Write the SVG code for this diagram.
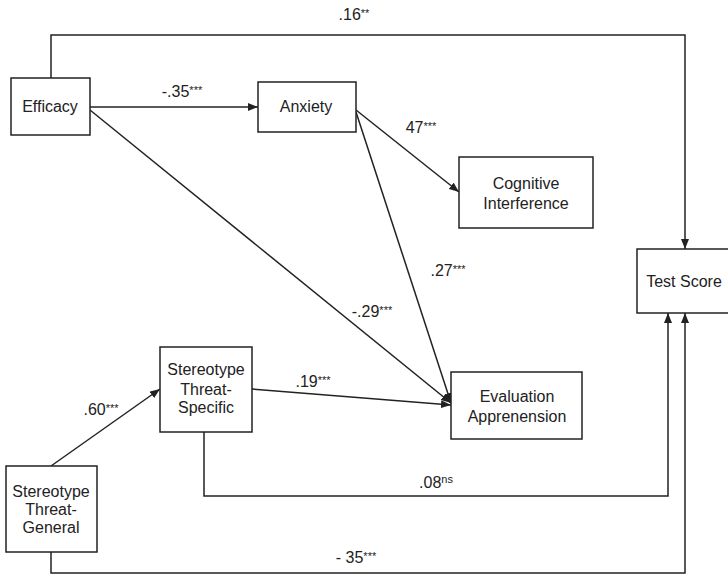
<svg xmlns="http://www.w3.org/2000/svg" width="728" height="576" viewBox="0 0 728 576">
<style>
.box{fill:#fff;stroke:#222;stroke-width:1.5}
.t{font-family:"Liberation Sans",Arial,sans-serif;font-size:16px;fill:#222;text-anchor:middle}
.lbl{font-family:"Liberation Sans",Arial,sans-serif;font-size:16px;fill:#222;text-anchor:middle}
.s{font-size:11px}
.c{fill:none;stroke:#222;stroke-width:1.5}
</style>
<defs>
<marker id="ah" markerUnits="userSpaceOnUse" markerWidth="10" markerHeight="8" refX="10" refY="4" orient="auto">
<path d="M0,0 L10,4 L0,8 z" fill="#222"/>
</marker>
</defs>
<rect width="728" height="576" fill="#fff"/>
<g id="connectors">
<path class="c" d="M51,78 V35 H685 V249" marker-end="url(#ah)"/>
<path class="c" d="M90,107 H258" marker-end="url(#ah)"/>
<path class="c" d="M356,110 L459,192" marker-end="url(#ah)"/>
<path class="c" d="M356,112 L451,403" marker-end="url(#ah)"/>
<path class="c" d="M90,110 L451,403" marker-end="url(#ah)"/>
<path class="c" d="M252,389 L451,405" marker-end="url(#ah)"/>
<path class="c" d="M51,466 L160,389" marker-end="url(#ah)"/>
<path class="c" d="M204,432 V496 H668 V313" marker-end="url(#ah)"/>
<path class="c" d="M51,552 V573 H685 V313" marker-end="url(#ah)"/>
<text class="lbl" x="354" y="20">.16<tspan class="s" dy="-3">**</tspan></text>
<text class="lbl" x="182" y="97">-.35<tspan class="s" dy="-3">***</tspan></text>
<text class="lbl" x="421" y="133">47<tspan class="s" dy="-3">***</tspan></text>
<text class="lbl" x="448" y="276">.27<tspan class="s" dy="-3">***</tspan></text>
<text class="lbl" x="372" y="317">-.29<tspan class="s" dy="-3">***</tspan></text>
<text class="lbl" x="313" y="387">.19<tspan class="s" dy="-3">***</tspan></text>
<text class="lbl" x="101" y="415">.60<tspan class="s" dy="-3">***</tspan></text>
<text class="lbl" x="436" y="488">.08<tspan class="s" dy="-5">ns</tspan></text>
<text class="lbl" x="356" y="563">- 35<tspan class="s" dy="-3">***</tspan></text>
</g>
<g id="efficacy">
<rect class="box" x="11" y="78" width="79" height="57"/>
<text class="t" x="50" y="112">Efficacy</text>
</g>
<g id="anxiety">
<rect class="box" x="258" y="82" width="98" height="50"/>
<text class="t" x="306" y="112">Anxiety</text>
</g>
<g id="cognitive">
<rect class="box" x="459" y="157" width="134" height="71"/>
<text class="t" x="526" y="189">Cognitive</text>
<text class="t" x="526" y="209">Interference</text>
</g>
<g id="testscore">
<rect class="box" x="637" y="249" width="100" height="64"/>
<text class="t" x="684" y="287">Test Score</text>
</g>
<g id="sts">
<rect class="box" x="160" y="347" width="92" height="85"/>
<text class="t" x="206" y="375">Stereotype</text>
<text class="t" x="206" y="395">Threat-</text>
<text class="t" x="206" y="413">Specific</text>
</g>
<g id="evaluation">
<rect class="box" x="451" y="372" width="131" height="67"/>
<text class="t" x="517" y="402">Evaluation</text>
<text class="t" x="517" y="422">Apprenension</text>
</g>
<g id="stg">
<rect class="box" x="6" y="466" width="91" height="86"/>
<text class="t" x="51" y="497">Stereotype</text>
<text class="t" x="51" y="515">Threat-</text>
<text class="t" x="51" y="533">General</text>
</g>
</svg>
